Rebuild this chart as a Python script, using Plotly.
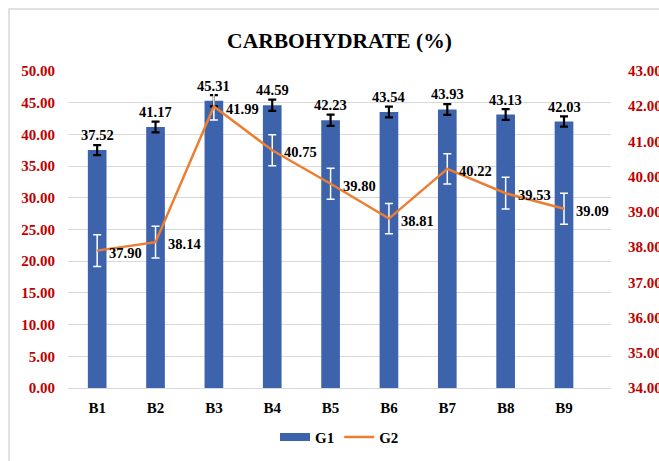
import plotly.graph_objects as go

categories = ["B1", "B2", "B3", "B4", "B5", "B6", "B7", "B8", "B9"]
g1_values = [37.52, 41.17, 45.31, 44.59, 42.23, 43.54, 43.93, 43.13, 42.03]
g1_errors = [0.8, 0.85, 0.9, 0.88, 0.88, 0.85, 0.85, 0.85, 0.8]
g2_values = [37.90, 38.14, 41.99, 40.75, 39.80, 38.81, 40.22, 39.53, 39.09]
g2_errors = [0.45, 0.45, 0.38, 0.44, 0.44, 0.43, 0.43, 0.45, 0.44]
left_ticks = [0, 5, 10, 15, 20, 25, 30, 35, 40, 45, 50]
right_ticks = [34, 35, 36, 37, 38, 39, 40, 41, 42, 43]

FONT = "Liberation Serif"
BLUE = "#3D63AC"
ORANGE = "#ED7D31"
RED = "#C00000"


def b(s):
    return f"<b>{s}</b>"


fig = go.Figure()
fig.add_trace(go.Bar(
    x=categories, y=g1_values, name=b("G1"), showlegend=False,
    marker=dict(color=BLUE, line=dict(width=0)),
    error_y=dict(type="data", array=g1_errors, visible=True,
                 color="black", thickness=2.2, width=4),
    yaxis="y",
))
# legend swatch for G1 (wide rectangle like the reference)
fig.add_trace(go.Scatter(
    x=[None], y=[None], name=b("G1"), mode="lines",
    line=dict(color=BLUE, width=8), yaxis="y",
))
fig.add_trace(go.Scatter(
    x=categories, y=g2_values, name=b("G2"), mode="lines",
    line=dict(color=ORANGE, width=2.5),
    error_y=dict(type="data", array=g2_errors, visible=True,
                 color="white", thickness=1.5, width=4),
    yaxis="y2",
))

annotations = []
for c, v in zip(categories, g1_values):
    annotations.append(dict(x=c, y=v, xref="x", yref="y", text=b(f"{v:.2f}"),
                            showarrow=False, yshift=15, yanchor="middle",
                            font=dict(family=FONT, size=14.5, color="black")))
for c, v in zip(categories, g2_values):
    annotations.append(dict(x=c, y=v, xref="x", yref="y2", text=b(f"{v:.2f}"),
                            showarrow=False, xanchor="left", xshift=10, yshift=-2,
                            yanchor="middle",
                            font=dict(family=FONT, size=14.5, color="black")))

fig.update_layout(
    width=659, height=461,
    margin=dict(l=68, r=48, t=71, b=73, autoexpand=False),
    paper_bgcolor="white", plot_bgcolor="white",
    title=dict(text=b("CARBOHYDRATE (%)"), x=0.5, xref="paper", xanchor="center",
               y=1 - 40 / 461, yref="container", yanchor="middle", automargin=False,
               font=dict(family=FONT, size=21.5, color="black")),
    bargap=0.68,
    showlegend=True,
    legend=dict(orientation="h", x=0.5, xanchor="center", y=-0.155, yanchor="middle",
                font=dict(family=FONT, size=15, color="black"),
                itemwidth=30, tracegroupgap=0),
    xaxis=dict(type="category", showgrid=False, showline=True, linecolor="#D9D9D9",
               linewidth=1, ticks="", ticklabelstandoff=6, automargin=False,
               tickvals=categories, ticktext=[b(c) for c in categories],
               tickfont=dict(family=FONT, size=15, color="black")),
    yaxis=dict(range=[0, 50], tickvals=left_ticks,
               ticktext=[b(f"{t:.2f}") for t in left_ticks], automargin=False,
               showgrid=True, gridcolor="#D9D9D9", gridwidth=1, zeroline=False,
               showline=False, ticks="", ticklabelstandoff=12,
               tickfont=dict(family=FONT, size=15, color=RED)),
    yaxis2=dict(range=[34, 43], tickvals=right_ticks,
                ticktext=[b(f"{t:.2f}") for t in right_ticks], automargin=False,
                overlaying="y", side="right", showgrid=False, zeroline=False,
                showline=False, ticks="", ticklabelstandoff=16,
                tickfont=dict(family=FONT, size=15, color=RED)),
    annotations=annotations,
    shapes=[dict(type="rect", xref="paper", yref="paper",
                 x0=(9 - 68) / 543, x1=(760 - 68) / 543,
                 y0=(388 - 520) / 317, y1=(388 - 9) / 317,
                 line=dict(color="#D9D9D9", width=1.5), fillcolor="rgba(0,0,0,0)",
                 layer="below")],
)

fig.write_html(
    "out.html",
    config={"displayModeBar": False},
    post_script="document.body.style.margin='0';document.body.style.overflow='hidden';",
)
